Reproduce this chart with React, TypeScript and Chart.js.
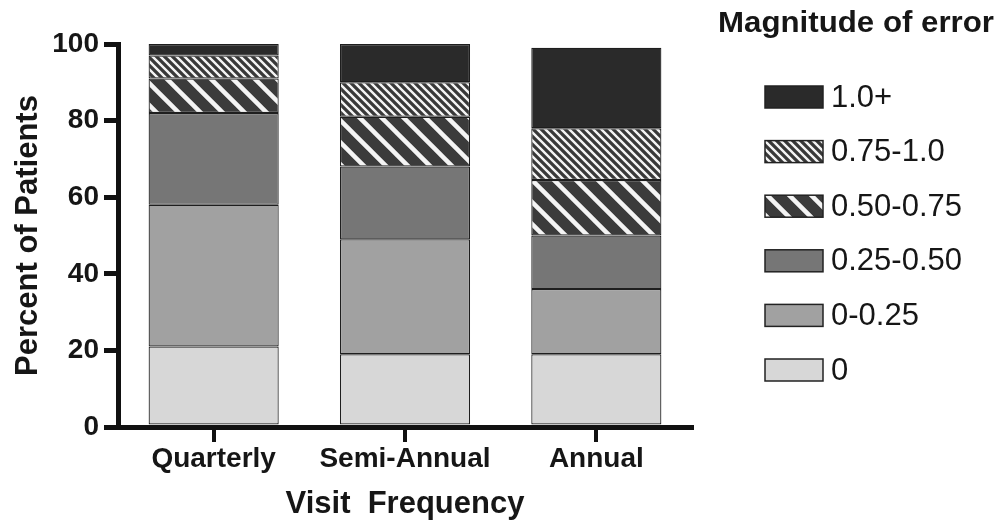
import React, { useEffect, useRef } from "react";
import { Chart, registerables } from "chart.js";

Chart.register(...registerables);

const categories = ["Quarterly", "Semi-Annual", "Annual"];
const seriesLabels = ["0", "0-0.25", "0.25-0.50", "0.50-0.75", "0.75-1.0", "1.0+"];
const valuesZero = [21, 19, 19];
const valuesQ1 = [37, 30, 17];
const valuesQ2 = [24, 19, 14];
const valuesQ3 = [9, 13, 14.5];
const valuesQ4 = [6, 9, 13.5];
const valuesOver = [3, 10, 21];
const yTicks = [0, 20, 40, 60, 80, 100];

const FONT = "'Liberation Sans', Arial, Helvetica, sans-serif";

function makeStripes(ctx: CanvasRenderingContext2D, period: number, bg: string, lineW: number) {
  const c = document.createElement("canvas");
  c.width = period;
  c.height = period;
  const p = c.getContext("2d")!;
  p.fillStyle = bg;
  p.fillRect(0, 0, period, period);
  p.strokeStyle = "#f4f4f4";
  p.lineWidth = lineW;
  p.beginPath();
  for (let k = -1; k <= 1; k++) {
    p.moveTo(k * period - 2, -2);
    p.lineTo(k * period + period + 2, period + 2);
  }
  p.stroke();
  return ctx.createPattern(c, "repeat")!;
}

const legendPlugin = {
  id: "customLegend",
  afterDraw(chart: any) {
    const ctx: CanvasRenderingContext2D = chart.ctx;
    ctx.save();
    ctx.fillStyle = "#161616";
    ctx.font = `bold 29px ${FONT}`;
    ctx.textAlign = "left";
    ctx.textBaseline = "alphabetic";
    const title = "Magnitude of error";
    const w = ctx.measureText(title).width;
    ctx.save();
    ctx.translate(718, 32);
    ctx.scale(276 / w, 1);
    ctx.fillText(title, 0, 0);
    ctx.restore();
    const ds = chart.data.datasets;
    const n = ds.length;
    for (let i = 0; i < n; i++) {
      const d = ds[n - 1 - i];
      const cy = 97 + i * 54.6;
      ctx.fillStyle = d.backgroundColor;
      ctx.fillRect(765, cy - 11, 58, 22);
      ctx.strokeStyle = "#222";
      ctx.lineWidth = 1.5;
      ctx.strokeRect(765, cy - 11, 58, 22);
      ctx.fillStyle = "#161616";
      ctx.font = `31px ${FONT}`;
      ctx.textBaseline = "middle";
      ctx.fillText(d.label, 831, cy + 1);
    }
    ctx.restore();
  },
};

export default function App() {
  const ref = useRef<HTMLCanvasElement>(null);
  useEffect(() => {
    const canvas = ref.current!;
    const ctx = canvas.getContext("2d")!;
    const fills: any[] = [
      "#d7d7d7",
      "#a1a1a1",
      "#767676",
      makeStripes(ctx, 22, "#3b3b3b", 4.5),
      makeStripes(ctx, 8, "#383838", 2.4),
      "#2a2a2a",
    ];
    const data = [valuesZero, valuesQ1, valuesQ2, valuesQ3, valuesQ4, valuesOver];
    const chart = new Chart(canvas, {
      type: "bar",
      data: {
        labels: categories,
        datasets: data.map((vals, i) => ({
          label: seriesLabels[i],
          data: vals,
          backgroundColor: fills[i],
          borderColor: "#1e1e1e",
          borderWidth: 1.2,
          borderSkipped: false,
          barPercentage: 0.68,
          categoryPercentage: 1,
        })),
      },
      options: {
        animation: false,
        responsive: false,
        maintainAspectRatio: false,
        layout: { padding: { left: 0, top: 44, right: 307, bottom: 0 } },
        plugins: { legend: { display: false }, tooltip: { enabled: false } },
        scales: {
          x: {
            stacked: true,
            afterFit(scale: any) {
              scale.height = 96;
            },
            grid: {
              drawOnChartArea: false,
              drawTicks: true,
              offset: false,
              tickLength: 15,
              lineWidth: 4,
              color: "#111",
            },
            border: { display: true, width: 5, color: "#111" },
            ticks: {
              color: "#161616",
              padding: 0,
              font: { family: FONT, size: 28, weight: "bold" },
            },
            title: {
              display: true,
              text: "Visit  Frequency",
              color: "#161616",
              font: { family: FONT, size: 31, weight: "bold" },
              padding: { top: 0, bottom: 0 },
            },
          },
          y: {
            stacked: true,
            min: 0,
            max: 100,
            afterFit(scale: any) {
              scale.width = 118;
            },
            afterBuildTicks(scale: any) {
              scale.ticks = yTicks.map((v) => ({ value: v }));
            },
            grid: {
              drawOnChartArea: false,
              drawTicks: true,
              tickLength: 14,
              lineWidth: 5,
              color: "#111",
            },
            border: { display: true, width: 5, color: "#111" },
            ticks: {
              color: "#161616",
              padding: 5,
              font: { family: FONT, size: 28, weight: "bold" },
            },
            title: {
              display: true,
              text: "Percent of Patients",
              color: "#161616",
              font: { family: FONT, size: 31, weight: "bold" },
              padding: { top: 10, bottom: 0 },
            },
          },
        },
      },
      plugins: [legendPlugin],
    });
    return () => chart.destroy();
  }, []);
  return (
    <div style={{ position: "absolute", left: 0, top: 0, width: 999, height: 523, background: "#fff" }}>
      <canvas ref={ref} width={999} height={523} style={{ width: 999, height: 523, display: "block" }} />
    </div>
  );
}
